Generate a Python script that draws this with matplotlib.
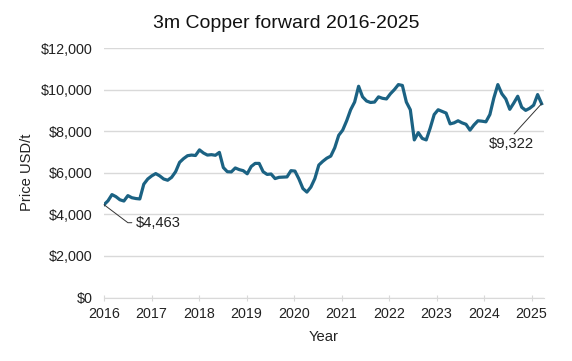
import numpy as np
import matplotlib.pyplot as plt

plt.rcParams['font.family'] = ['Liberation Sans', 'DejaVu Sans']

# monthly 3m copper forward price, USD/t, Jan 2016 - Mar 2025
p2016 = [4463, 4650, 4950, 4850, 4700, 4640, 4900, 4800, 4760, 4740, 5450, 5700]
p2017 = [5850, 5960, 5850, 5700, 5640, 5780, 6050, 6500, 6680, 6820, 6850, 6830]
p2018 = [7100, 6950, 6850, 6870, 6840, 6980, 6250, 6050, 6040, 6230, 6150, 6100]
p2019 = [5950, 6300, 6450, 6450, 6050, 5920, 5940, 5720, 5780, 5790, 5800, 6100]
p2020 = [6080, 5700, 5240, 5070, 5310, 5720, 6370, 6550, 6700, 6800, 7200, 7800]
p2021 = [8050, 8500, 9030, 9400, 10160, 9650, 9450, 9380, 9400, 9650, 9580, 9550]
p2022 = [9800, 10000, 10240, 10200, 9400, 9030, 7580, 7930, 7650, 7580, 8150, 8800]
p2023 = [9030, 8950, 8870, 8350, 8400, 8500, 8400, 8330, 8050, 8300, 8500, 8480]
p2024 = [8450, 8800, 9600, 10240, 9800, 9550, 9050, 9350, 9680, 9150, 9000, 9100]
p2025 = [9250, 9760, 9322]

price = np.array(p2016 + p2017 + p2018 + p2019 + p2020 + p2021 + p2022 + p2023 + p2024 + p2025)
t = 2016 + np.arange(len(price)) / 12 * 1.005
years = list(range(2016, 2026))

fig = plt.figure(figsize=(5.72, 3.61), dpi=100)
ax = fig.add_axes([104/572, 1 - 297.5/361, 440/572, 249.5/361])

ax.plot(t, price, color='#1b6283', lw=2.3, solid_joinstyle='round')

ax.set_xlim(2016, 2025.263)
ax.set_ylim(0, 12000)
ax.set_xticks(years)
ax.set_yticks(range(0, 12001, 2000))
ax.set_yticklabels(['${:,}'.format(v) for v in range(0, 12001, 2000)])
ax.grid(axis='y', color='#d9d9d9', lw=1)
ax.set_axisbelow(True)
for s in ['top', 'right', 'left']:
    ax.spines[s].set_visible(False)
ax.spines['bottom'].set_color('#d9d9d9')
ax.tick_params(axis='y', length=0, pad=8, labelsize=10.4, labelcolor='#222222')
ax.tick_params(axis='x', direction='inout', length=4, color='#d9d9d9', pad=5,
               labelsize=10.3, labelcolor='#222222')

ax.set_xlabel('Year', fontsize=10.6, color='#222222', labelpad=6)
ax.set_ylabel('Price USD/t', fontsize=10.6, color='#222222', labelpad=5)
fig.text(0.5, 1 - 23/361, '3m Copper forward 2016-2025', ha='center', va='center',
         fontsize=14, color='#111111')

ax.annotate('${:,}'.format(price[0]), xy=(t[0], price[0]), xytext=(32, -18),
            textcoords='offset pixels', ha='left', va='center', fontsize=10.6, color='#222222',
            arrowprops=dict(arrowstyle='-', color='#333333', lw=0.7, relpos=(0, 0.5),
                            shrinkA=1, shrinkB=0,
                            connectionstyle='angle,angleA=0,angleB=-37,rad=0'))
ax.annotate('${:,}'.format(price[-1]), xy=(t[-1], price[-1]), xytext=(-30, -40),
            textcoords='offset pixels', ha='center', va='center', fontsize=10.6, color='#222222',
            arrowprops=dict(arrowstyle='-', color='#333333', lw=0.7, relpos=(0.5, 1.0),
                            shrinkA=0, shrinkB=0))

fig.savefig('out.png', dpi=100)
